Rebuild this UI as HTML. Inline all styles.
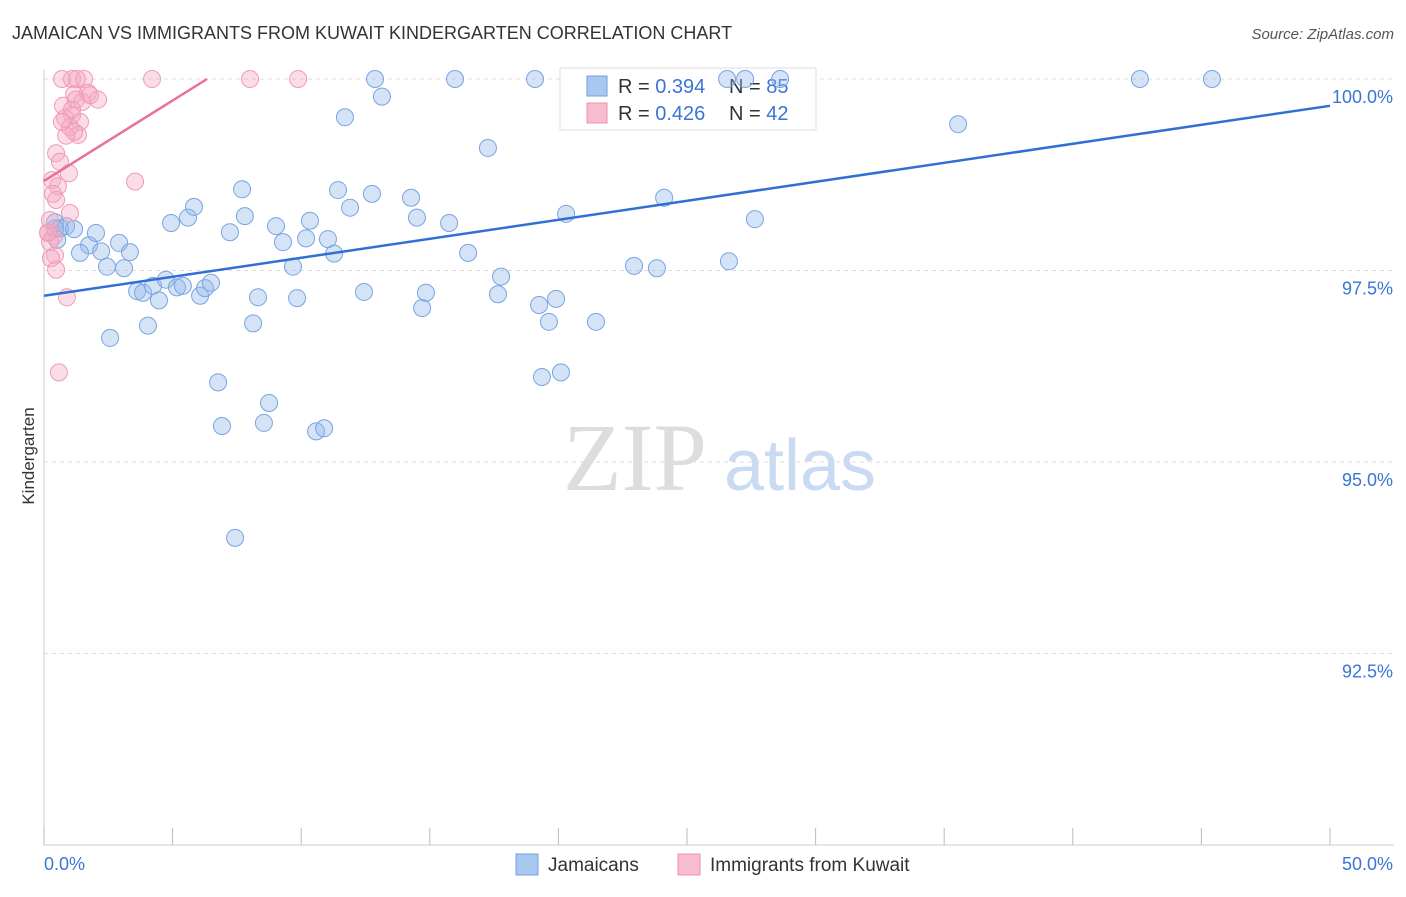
<!DOCTYPE html>
<html><head><meta charset="utf-8"><style>
body{margin:0;background:#fff;font-family:"Liberation Sans",sans-serif}
</style></head><body>
<svg width="1406" height="892" xmlns="http://www.w3.org/2000/svg">
<text x="12" y="39" font-size="18" fill="#333">JAMAICAN VS IMMIGRANTS FROM KUWAIT KINDERGARTEN CORRELATION CHART</text>
<text x="1394" y="39" font-size="15" fill="#555" text-anchor="end" font-style="italic">Source: ZipAtlas.com</text>
<text x="34" y="456" font-size="17" fill="#333" text-anchor="middle" transform="rotate(-90 34 456)">Kindergarten</text>
<g><text x="635" y="490" font-size="96" fill="#ddd" text-anchor="middle" font-family="Liberation Serif,serif">ZIP</text><text x="800" y="490" font-size="72" fill="#c9daf2" text-anchor="middle">atlas</text></g>
<g id="grid"></g><g id="axes"></g>
<g>
<rect x="560" y="68" width="256" height="62" fill="#fff" stroke="#ddd"/>
<rect x="587" y="76" width="20" height="20" fill="#a9c8f0" stroke="#6f9fe0"/>
<rect x="587" y="103" width="20" height="20" fill="#f7bccd" stroke="#ef8fb0"/>
<text x="618" y="93" font-size="20" fill="#333">R = <tspan fill="#3a75d6">0.394</tspan></text>
<text x="729" y="93" font-size="20" fill="#333">N = <tspan fill="#3a75d6">85</tspan></text>
<text x="618" y="120" font-size="20" fill="#333">R = <tspan fill="#3a75d6">0.426</tspan></text>
<text x="729" y="120" font-size="20" fill="#333">N = <tspan fill="#3a75d6">42</tspan></text>
</g>
<g id="pts"></g><g id="trend"></g>
<g>
<rect x="516" y="854" width="22" height="21" fill="#a9c8f0" stroke="#6f9fe0"/>
<text x="548" y="871" font-size="19" fill="#333">Jamaicans</text>
<rect x="678" y="854" width="22" height="21" fill="#f7bccd" stroke="#ef8fb0"/>
<text x="710" y="871" font-size="19" fill="#333">Immigrants from Kuwait</text>
</g>
</svg>
<script>
const blueX=[0.43,0.62,0.86,0.51,1.17,1.75,2.02,1.40,2.22,2.92,3.34,2.45,3.11,3.62,3.85,4.24,4.47,4.74,5.17,5.40,6.07,6.26,6.49,2.57,4.04,4.94,5.60,5.83,7.23,7.70,7.81,8.32,8.13,9.02,9.29,9.68,9.84,10.19,10.34,11.04,11.28,11.43,11.90,11.70,12.75,12.44,12.87,13.14,14.27,14.50,14.70,14.85,15.75,15.98,16.49,17.26,17.77,17.65,19.09,19.25,19.63,19.91,20.30,19.36,20.10,21.46,22.94,23.83,24.11,26.63,26.56,27.26,27.64,28.62,35.54,42.61,45.41,6.77,6.92,8.75,8.55,10.58,10.89,7.43,0.43];
const blueY=[98.13,98.05,98.08,97.90,98.04,97.83,97.99,97.73,97.75,97.86,97.74,97.55,97.53,97.23,97.21,97.30,97.11,97.38,97.28,97.30,97.17,97.27,97.34,96.62,96.78,98.12,98.19,98.33,98.00,98.56,98.21,97.15,96.81,98.08,97.87,97.55,97.14,97.92,98.15,97.91,97.72,98.55,98.32,99.50,98.50,97.22,100,99.77,98.45,98.19,97.01,97.21,98.12,100,97.73,99.10,97.42,97.19,100,97.05,96.83,97.13,98.24,96.11,96.17,96.83,97.56,97.53,98.45,97.62,100,100,98.17,100,99.41,100,100,96.04,95.47,95.77,95.51,95.40,95.44,94.01,98.05];
const pinkX=[0.70,1.09,1.28,1.56,4.20,8.01,9.88,1.71,2.10,1.17,0.74,1.48,1.09,0.82,1.40,1.01,1.32,1.17,0.47,0.62,0.97,0.31,0.54,0.35,3.54,1.01,0.16,0.39,0.23,0.43,0.27,0.47,0.89,0.58,0.16,0.86,0.70,1.09,1.79,1.24,0.47,0.23];
const pinkY=[100,100,100,100,100,100,100,99.82,99.73,99.80,99.65,99.70,99.53,99.49,99.44,99.37,99.27,99.31,99.03,98.92,98.77,98.68,98.60,98.50,98.66,98.25,97.99,97.95,97.87,97.70,97.66,97.51,97.15,96.17,98.00,99.26,99.44,99.60,99.79,99.73,98.42,98.16];
const blueTrendX=[0,50], blueTrendY=[97.17,99.65];
const pinkTrendX=[0,6.34], pinkTrendY=[98.67,100];
const yTicks=[100,97.5,95,92.5], yTickLabels=["100.0%","97.5%","95.0%","92.5%"];
const xTicks=[0,5,10,15,20,25,30,35,40,45,50];
const NS="http://www.w3.org/2000/svg";
const sx=v=>44+v*25.72, sy=v=>79+(100-v)*76.6;
function mk(t,a,p){const e=document.createElementNS(NS,t);for(const k in a)e.setAttribute(k,a[k]);p.appendChild(e);return e;}
const grid=document.getElementById('grid'),axes=document.getElementById('axes'),pts=document.getElementById('pts'),tr=document.getElementById('trend');
yTicks.forEach((v,i)=>{
 const l=mk('line',{x1:44,x2:1394,y1:sy(v),y2:sy(v),stroke:'#ddd','stroke-dasharray':'4 4'},grid);
 
 
 const t=mk('text',{x:1393,y:sy(v)+24,'font-size':18,fill:'#3a75d6','text-anchor':'end'},axes);
 t.textContent=yTickLabels[i];
 
 
});
mk('line',{x1:44,x2:44,y1:70,y2:845,stroke:'#ccc'},axes);
mk('line',{x1:44,x2:1394,y1:845,y2:845,stroke:'#ccc'},axes);
xTicks.forEach(v=>{const l=mk('line',{x1:sx(v),x2:sx(v),y1:828,y2:845,stroke:'#bbb'},axes);
 
 });
[[0,"0.0%","start",44],[50,"50.0%","end",1393]].forEach(a=>{const t=mk('text',{x:a[3],y:870,'font-size':18,fill:'#3a75d6','text-anchor':a[2]},axes);t.textContent=a[1];
 
 });
blueX.forEach((x,i)=>{const c=mk('circle',{cx:sx(x),cy:sy(blueY[i]),r:8.5,fill:'rgba(150,185,235,0.4)',stroke:'#78a4e2','stroke-width':1},pts);
 
 });
pinkX.forEach((x,i)=>{const c=mk('circle',{cx:sx(x),cy:sy(pinkY[i]),r:8.5,fill:'rgba(245,170,195,0.4)',stroke:'#f09ab7','stroke-width':1},pts);
 
 });
const b=mk('line',{x1:sx(blueTrendX[0]),y1:sy(blueTrendY[0]),x2:sx(blueTrendX[1]),y2:sy(blueTrendY[1]),stroke:'#2f6fd6','stroke-width':2.5},tr);


const p=mk('line',{x1:sx(pinkTrendX[0]),y1:sy(pinkTrendY[0]),x2:sx(pinkTrendX[1]),y2:sy(pinkTrendY[1]),stroke:'#e8709a','stroke-width':2.5},tr);


</script>
</body></html>
